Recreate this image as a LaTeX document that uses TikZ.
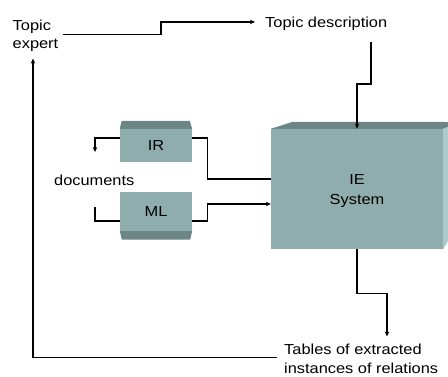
\documentclass[tikz,border=0pt]{standalone}
\usepackage{fontspec}
\setmainfont{Liberation Sans}[FakeStretch=1.13]
\usetikzlibrary{arrows.meta,calc}
\definecolor{boxfront}{RGB}{143,173,173}
\definecolor{boxtop}{RGB}{108,134,134}
\definecolor{boxside}{RGB}{172,202,202}
\begin{document}
\begin{tikzpicture}[x=1pt,y=-1pt,
  lbl/.style={inner sep=0pt, font=\fontsize{14.5}{18.7}\selectfont, align=left},
  conn/.style={line width=1.3pt},
  arr/.style={conn, -{Stealth[length=5pt,width=4.5pt]}},
  front/.style={fill=boxfront, draw=none, inner sep=0pt, font=\fontsize{14.5}{20}\selectfont, align=center}]
\useasboundingbox (0,0) rectangle (448,376);
\begin{scope}
\clip (0,0) rectangle (448,376);
% IE system box
\node[front, minimum width=172pt, minimum height=120pt] (ie) at (357,189) {};
\node[lbl, align=center, font=\fontsize{14.5}{20}\selectfont] (ielbl) at (357,191.5) {IE\\System};
\fill[boxtop] (ie.north west) -- ++(22,-7) -- (448,122) -- (448,127) -- (ie.north east) -- cycle;
\fill[boxside] (ie.north east) -- (448,127) -- (448,241) -- (ie.south east) -- cycle;
\end{scope}
% IR and ML boxes
\node[front, minimum width=72pt, minimum height=33pt] (ir) at (156,145.5) {IR};
\fill[boxtop] (ir.north west) -- ++(1.8,-8) -- ($(ir.north east)+(-2.5,-8)$) -- (ir.north east) -- cycle;
\node[front, minimum width=72pt, minimum height=39pt] (ml) at (156,211.5) {ML};
\fill[boxtop] (ml.south west) -- ++(2,8.5) -- ($(ml.south east)+(-2,8.5)$) -- (ml.south east) -- cycle;
% labels
\node[lbl, anchor=north west] (expert) at (12.5,19.5) {Topic\\expert};
\node[lbl, anchor=base west] (desc) at (265,27.3) {Topic description};
\node[lbl, anchor=north west] (tables) at (284,344) {Tables of extracted\\instances of relations};
\node[lbl, anchor=base west] (docs) at (54,185) {documents};
\coordinate (irout) at (95,152);
\coordinate (mlin) at (95,207);
% connectors
\draw[arr] ([xshift=5pt,yshift=1.5pt]expert.east) -- ++(97.5,0) |- ([xshift=-10pt,yshift=1.6pt]desc.west);
\draw[arr] ([yshift=-11pt]desc.south -| 371,0) -- (371,84) -| (ie.north);
\draw[arr] (ie.south) -- ++(0,44) -| ([yshift=7.5pt]tables.north -| 387,0);
\draw[arr] ([xshift=-7pt,yshift=1.5pt]tables.west) -| ([xshift=-2.5pt,yshift=-6.5pt]expert.south);
\draw[arr] ([yshift=7.5pt]ir.west) -| (irout);
\draw[conn] ([yshift=7.5pt]ir.east) -- ++(15,0) |- ([yshift=10pt]ie.west);
\draw[arr] ([yshift=-9.5pt]ml.east) -- ++(15,0) |- ([yshift=-15pt]ie.west);
\draw[conn] (mlin) |- ([yshift=-9.5pt]ml.west);
\end{tikzpicture}
\end{document}
